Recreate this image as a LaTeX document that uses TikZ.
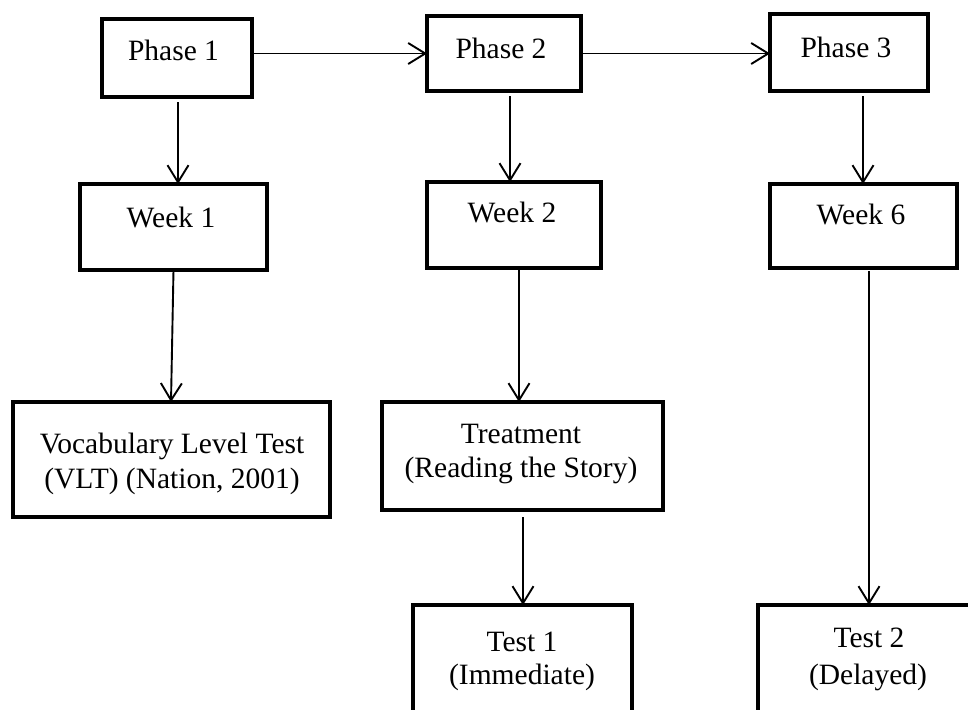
\documentclass[tikz,border=0pt]{standalone}
\usepackage{fontspec}
\setmainfont{Liberation Serif}
\usetikzlibrary{arrows.meta}
\begin{document}
\begin{tikzpicture}[x=1pt,y=-1pt,
  box/.style 2 args={draw, line width=4.3pt, minimum width=#1, minimum height=#2, inner sep=0pt, outer sep=0pt},
  txt/.style={font=\fontsize{29.5}{35}\selectfont, inner sep=0pt, anchor=base},
  arr/.style={line width=1.9pt, -{Straight Barb[length=17pt,width=21pt,line width=1.9pt]}}]
\useasboundingbox (0,0) rectangle (968,709);
\clip (0,0) rectangle (968,709);
\fill[white] (0,0) rectangle (968,709);
% boxes
\node[box={150pt}{78pt}] (p1) at (177,58) {};
\node[box={154pt}{75pt}] (p2) at (504,53.5) {};
\node[box={158pt}{77pt}] (p3) at (849,52.5) {};
\node[box={187pt}{86pt}] (w1) at (173.5,227) {};
\node[box={174pt}{86pt}] (w2) at (514,225) {};
\node[box={187pt}{84pt}] (w6) at (863.5,226) {};
\node[box={317pt}{115pt}] (vlt) at (171.5,459.5) {};
\node[box={281pt}{108pt}] (tr) at (522.5,456) {};
\node[box={219pt}{120pt}] (t1) at (522.5,665) {};
\node[box={220pt}{120pt}] (t2) at (868,665) {};
% texts
\node[txt] (tp1) at (173.5,60) {Phase 1};
\node[txt] (tp2) at (501,59) {Phase 2};
\node[txt] (tp3) at (846,57) {Phase 3};
\node[txt] (tw1) at (171,227) {Week 1};
\node[txt] (tw2) at (512,222) {Week 2};
\node[txt] (tw6) at (861,224) {Week 6};
\node[txt] (tv1) at (172,453) {Vocabulary Level Test};
\node[txt] (tv2) at (172,488) {(VLT) (Nation, 2001)};
\node[txt] (tr1) at (521,443) {Treatment};
\node[txt] (tr2) at (521,477) {(Reading the Story)};
\node[txt] (tt1a) at (522,651) {Test 1};
\node[txt] (tt1b) at (522,684) {(Immediate)};
\node[txt] (tt2a) at (869,647) {Test 2};
\node[txt] (tt2b) at (868,684) {(Delayed)};
% connectors
\draw[arr, shorten <=2pt] (p1.east |- p2.west) -- (p2.west);
\draw[arr, shorten <=2pt] (p2.east) -- (p2.east -| p3.west);
\draw[arr, shorten <=5pt] ([xshift=1pt]p1.south) -- ([xshift=4.5pt]w1.north);
\draw[arr, shorten <=5pt] ([xshift=6pt]p2.south) -- ([xshift=-4pt]w2.north);
\draw[arr, shorten <=5pt] ([xshift=14pt]p3.south) -- ([xshift=-0.5pt]w6.north);
\draw[arr, shorten <=1pt] ([xshift=0pt]w1.south) -- ([xshift=-0.5pt]vlt.north);
\draw[arr, shorten <=2pt] ([xshift=5pt]w2.south) -- ([xshift=-3.5pt]tr.north);
\draw[arr, shorten <=7pt] ([xshift=0.5pt]tr.south) -- ([xshift=0.5pt]t1.north);
\draw[arr, shorten <=3pt] ([xshift=5.5pt]w6.south) -- ([xshift=1pt]t2.north);
\end{tikzpicture}
\end{document}
